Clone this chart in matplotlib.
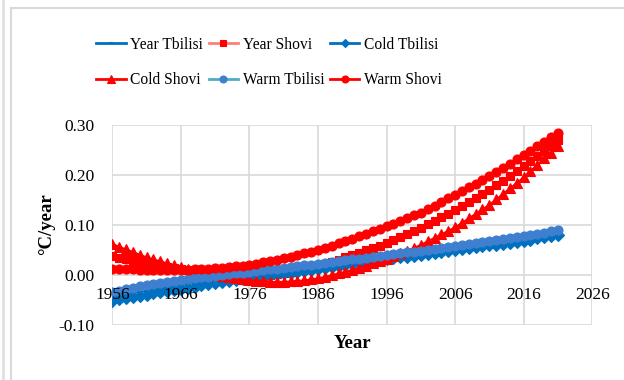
import matplotlib.pyplot as plt
from matplotlib.lines import Line2D
import numpy as np

plt.rcParams['font.family'] = ['Liberation Serif', 'DejaVu Serif']

years = np.arange(1956, 2022)

year_tbilisi = [-0.044, -0.041, -0.039, -0.036, -0.034, -0.032,
                -0.029, -0.027, -0.025, -0.022, -0.020,
                -0.018, -0.016, -0.014, -0.012, -0.010,
                -0.008, -0.007, -0.005, -0.003, -0.001,
                0.001, 0.003, 0.004, 0.006, 0.008,
                0.010, 0.012, 0.013, 0.015, 0.017,
                0.019, 0.021, 0.022, 0.024, 0.026,
                0.028, 0.030, 0.031, 0.033, 0.035,
                0.037, 0.039, 0.040, 0.042, 0.044,
                0.046, 0.048, 0.049, 0.051, 0.053,
                0.055, 0.057, 0.059, 0.061, 0.063,
                0.065, 0.067, 0.069, 0.071, 0.073,
                0.075, 0.077, 0.080, 0.082, 0.084]

year_shovi = [0.037, 0.034, 0.031, 0.028, 0.025, 0.022,
              0.020, 0.018, 0.016, 0.014, 0.012,
              0.010, 0.008, 0.006, 0.005, 0.003,
              0.001, 0.000, -0.001, -0.002, -0.003,
              -0.003, -0.002, -0.001, 0.001, 0.003,
              0.006, 0.009, 0.012, 0.015, 0.018,
              0.022, 0.026, 0.030, 0.035, 0.040,
              0.044, 0.049, 0.053, 0.058, 0.063,
              0.069, 0.075, 0.081, 0.087, 0.094,
              0.101, 0.108, 0.115, 0.122, 0.130,
              0.138, 0.146, 0.154, 0.162, 0.170,
              0.179, 0.188, 0.198, 0.207, 0.217,
              0.227, 0.238, 0.248, 0.259, 0.270]

cold_tbilisi = [-0.052, -0.049, -0.047, -0.044, -0.042, -0.040,
                -0.037, -0.035, -0.033, -0.030, -0.028,
                -0.026, -0.024, -0.021, -0.019, -0.017,
                -0.015, -0.013, -0.011, -0.009, -0.007,
                -0.005, -0.003, -0.001, 0.001, 0.003,
                0.004, 0.006, 0.008, 0.010, 0.012,
                0.014, 0.016, 0.018, 0.020, 0.022,
                0.023, 0.025, 0.027, 0.029, 0.031,
                0.033, 0.035, 0.036, 0.038, 0.040,
                0.042, 0.044, 0.045, 0.047, 0.049,
                0.051, 0.053, 0.055, 0.057, 0.059,
                0.060, 0.062, 0.064, 0.066, 0.068,
                0.070, 0.073, 0.075, 0.078, 0.080]

cold_shovi = [0.062, 0.056, 0.051, 0.046, 0.040, 0.035,
              0.031, 0.027, 0.023, 0.019, 0.015,
              0.012, 0.009, 0.006, 0.003, 0.000,
              -0.002, -0.005, -0.007, -0.009, -0.011,
              -0.012, -0.013, -0.014, -0.014, -0.014,
              -0.013, -0.012, -0.011, -0.009, -0.007,
              -0.004, -0.001, 0.003, 0.006, 0.010,
              0.014, 0.018, 0.023, 0.027, 0.032,
              0.037, 0.043, 0.048, 0.054, 0.060,
              0.067, 0.074, 0.081, 0.088, 0.095,
              0.104, 0.113, 0.122, 0.131, 0.140,
              0.151, 0.162, 0.173, 0.184, 0.195,
              0.208, 0.220, 0.233, 0.245, 0.258]

warm_tbilisi = [-0.035, -0.032, -0.029, -0.026, -0.023, -0.021,
                -0.019, -0.017, -0.015, -0.013, -0.011,
                -0.009, -0.007, -0.005, -0.004, -0.002,
                0.000, 0.001, 0.003, 0.004, 0.006,
                0.008, 0.009, 0.011, 0.012, 0.014,
                0.015, 0.017, 0.019, 0.020, 0.022,
                0.024, 0.026, 0.027, 0.029, 0.031,
                0.032, 0.034, 0.036, 0.037, 0.039,
                0.041, 0.043, 0.045, 0.046, 0.048,
                0.050, 0.052, 0.054, 0.055, 0.057,
                0.059, 0.061, 0.063, 0.065, 0.067,
                0.069, 0.071, 0.073, 0.076, 0.078,
                0.080, 0.082, 0.084, 0.087, 0.089]

warm_shovi = [0.012, 0.012, 0.011, 0.011, 0.010, 0.010,
              0.010, 0.010, 0.010, 0.010, 0.010,
              0.010, 0.011, 0.011, 0.012, 0.013,
              0.014, 0.015, 0.017, 0.018, 0.020,
              0.022, 0.025, 0.028, 0.030, 0.033,
              0.036, 0.039, 0.043, 0.046, 0.050,
              0.054, 0.058, 0.063, 0.067, 0.072,
              0.077, 0.082, 0.087, 0.092, 0.097,
              0.102, 0.108, 0.113, 0.119, 0.124,
              0.131, 0.138, 0.146, 0.153, 0.160,
              0.167, 0.175, 0.182, 0.190, 0.197,
              0.205, 0.214, 0.222, 0.231, 0.240,
              0.249, 0.258, 0.267, 0.276, 0.285]

x_ticks = [1956, 1966, 1976, 1986, 1996, 2006, 2016, 2026]
y_ticks = [-0.10, 0.00, 0.10, 0.20, 0.30]

red = '#ff0000'
blue = '#0070c0'
grid_c = '#d9d9d9'

fig = plt.figure(figsize=(6.24, 3.80), dpi=100)
ax = fig.add_axes([0.18, 0.145, 0.769, 0.526])

# series: (values, label, line color, marker, marker color, size)
series = [
    (year_tbilisi, 'Year Tbilisi', blue, '_', blue, 4),
    (year_shovi, 'Year Shovi', '#ff7c80', 's', red, 6),
    (cold_tbilisi, 'Cold Tbilisi', blue, 'D', blue, 6),
    (cold_shovi, 'Cold Shovi', red, '^', red, 7.5),
    (warm_tbilisi, 'Warm Tbilisi', '#4bacc6', 'o', '#3f7fcf', 6.5),
    (warm_shovi, 'Warm Shovi', red, 'o', red, 6.5),
]

handles = []
for vals, label, lc, mk, mc, ms in series:
    ax.plot(years, vals, color=lc, lw=1.5, marker=mk, ms=ms,
            mfc=mc, mec=mc, mew=1.5 if mk == '_' else 0.8, zorder=3)
    handles.append(Line2D([], [], color=lc, lw=2, marker=mk, ms=ms - 1.5,
                          mfc=mc, mec=mc, mew=1.5 if mk == '_' else 0.8))

ax.set_xlim(1956, 2026)
ax.set_ylim(-0.10, 0.30)
ax.set_xticks(x_ticks)
ax.set_yticks(y_ticks)
ax.set_yticklabels(['%.2f' % v for v in y_ticks])
for xv in x_ticks:
    ax.axvline(xv, color=grid_c, lw=1.2, zorder=0.5)
for yv in y_ticks:
    ax.axhline(yv, color=grid_c, lw=1.2, zorder=0.5)
for s in ['top', 'right', 'left', 'bottom']:
    ax.spines[s].set_visible(False)
ax.xaxis.set_zorder(5)
ax.tick_params(axis='both', length=0, labelsize=12.5)
ax.tick_params(axis='x', pad=9)
ax.tick_params(axis='y', pad=13)
# x labels sit next to the zero line, as in the original
ax.spines['bottom'].set_position(('data', 0))

fig.text(0.565, 0.095, 'Year', fontsize=13.5, fontweight='bold', ha='center', va='center')
fig.text(0.075, 0.41, '°C/year', fontsize=13.5, fontweight='bold', rotation=90,
         ha='center', va='center')

order = [0, 3, 1, 4, 2, 5]
fig.legend([handles[i] for i in order], [series[i][1] for i in order],
           ncol=3, loc='center', bbox_to_anchor=(0.431, 0.836), frameon=False,
           fontsize=11.2, handlelength=1.9, handletextpad=0.3, columnspacing=0.35,
           labelspacing=1.25)

# chart frame like the spreadsheet export
fig.add_artist(plt.Line2D([0.017, 0.017], [0, 1 - 8 / 380], color='#d9d9d9', lw=1.5))
fig.add_artist(plt.Line2D([0.017, 1], [1 - 8 / 380, 1 - 8 / 380], color='#d9d9d9', lw=1.5))
fig.add_artist(plt.Line2D([0.005, 0.005], [0, 1], color='#e0e0e0', lw=2))

fig.savefig('out.png', dpi=100)
